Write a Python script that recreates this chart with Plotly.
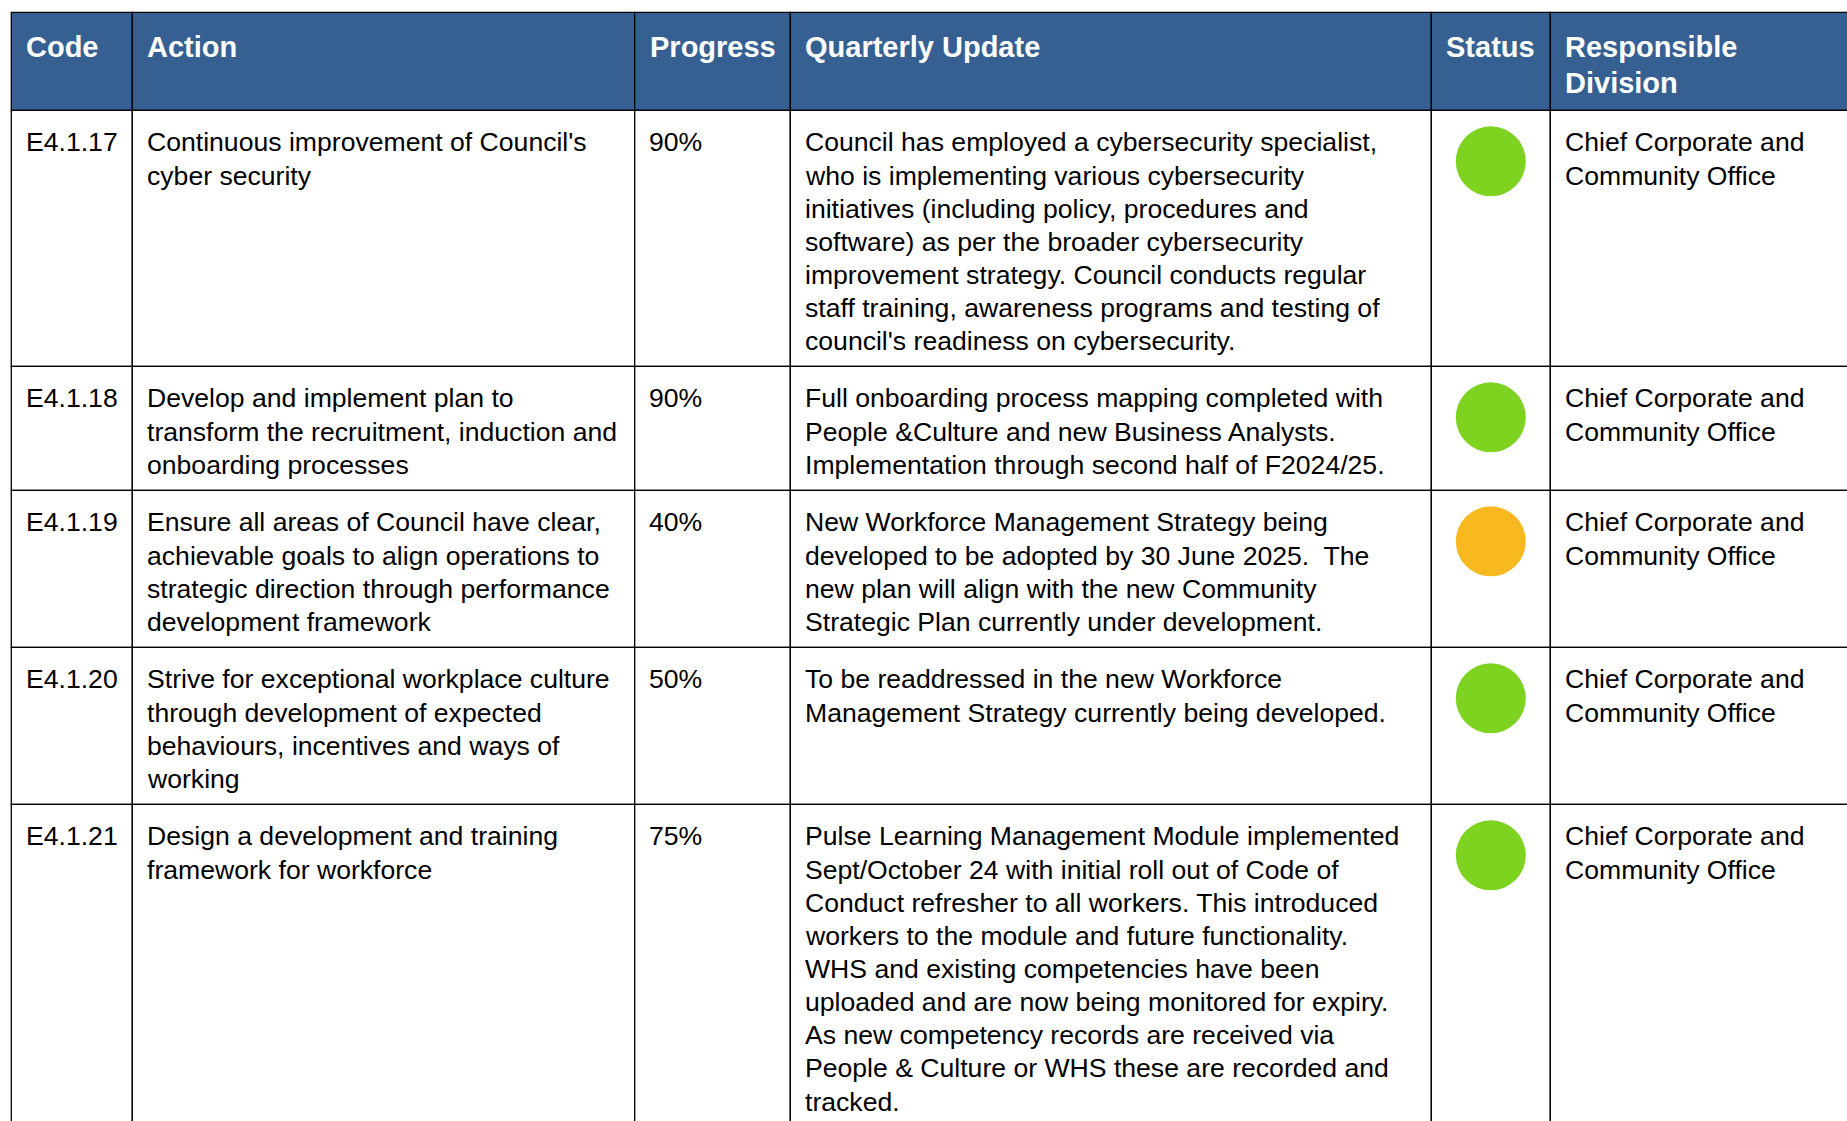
import plotly.graph_objects as go

# ---------------- data ----------------
headers = ["Code", "Action", "Progress", "Quarterly Update", "Status", "Responsible\nDivision"]

codes = ["E4.1.17", "E4.1.18", "E4.1.19", "E4.1.20", "E4.1.21"]

actions = [
    "Continuous improvement of Council's\ncyber security",
    "Develop and implement plan to\ntransform the recruitment, induction and\nonboarding processes",
    "Ensure all areas of Council have clear,\nachievable goals to align operations to\nstrategic direction through performance\ndevelopment framework",
    "Strive for exceptional workplace culture\nthrough development of expected\nbehaviours, incentives and ways of\nworking",
    "Design a development and training\nframework for workforce",
]

progress = [90, 90, 40, 50, 75]

updates = [
    "Council has employed a cybersecurity specialist,\nwho is implementing various cybersecurity\ninitiatives (including policy, procedures and\nsoftware) as per the broader cybersecurity\nimprovement strategy. Council conducts regular\nstaff training, awareness programs and testing of\ncouncil's readiness on cybersecurity.",
    "Full onboarding process mapping completed with\nPeople &Culture and new Business Analysts.\nImplementation through second half of F2024/25.",
    "New Workforce Management Strategy being\ndeveloped to be adopted by 30 June 2025.  The\nnew plan will align with the new Community\nStrategic Plan currently under development.",
    "To be readdressed in the new Workforce\nManagement Strategy currently being developed.",
    "Pulse Learning Management Module implemented\nSept/October 24 with initial roll out of Code of\nConduct refresher to all workers. This introduced\nworkers to the module and future functionality.\nWHS and existing competencies have been\nuploaded and are now being monitored for expiry.\nAs new competency records are received via\nPeople & Culture or WHS these are recorded and\ntracked.",
]

status = ["On track", "On track", "Monitor", "On track", "On track"]

divisions = [
    "Chief Corporate and\nCommunity Office",
    "Chief Corporate and\nCommunity Office",
    "Chief Corporate and\nCommunity Office",
    "Chief Corporate and\nCommunity Office",
    "Chief Corporate and\nCommunity Office",
]

# ---------------- styling / layout ----------------
W, H = 1847, 1121
FONT = "Liberation Sans, Arial, Helvetica, sans-serif"
HEADER_BG = "rgb(54,96,146)"
BORDER = "black"
BORDER_W = 1.3
STATUS_COLORS = {"On track": "rgb(126,211,33)", "Monitor": "rgb(248,185,32)"}

TABLE_LEFT = 11.3
TABLE_TOP = 12.3
COL_WIDTHS = [121, 502.4, 155.6, 641, 119, 420]
HEADER_H = 98
HEAD_FS = 29
HEAD_LINE_H = 36
HEAD_BASE_OFF = 44.6
BODY_FS = 26.6
LINE_H = 33
TEXT_LINE_H = 33.15
ROW_PAD = 25
BODY_BASE_OFF = 41.3
TEXT_PAD = 14.3
HEAD_PAD = 14.8
CIRCLE_OFF = 51
CIRCLE_D = 70
BASE_FROM_CENTER = 0.3465  # em, Liberation Sans (ascent-descent)/2

col_x = [TABLE_LEFT]
for w in COL_WIDTHS:
    col_x.append(col_x[-1] + w)

rows = []
for i in range(len(codes)):
    cells = [codes[i], actions[i], f"{progress[i]}%", updates[i], "", divisions[i]]
    rows.append(cells)

row_tops = [TABLE_TOP + HEADER_H]
for cells in rows:
    n = max(len(c.split("\n")) for c in cells)
    row_tops.append(row_tops[-1] + n * LINE_H + ROW_PAD)

shapes = []
annotations = []

def add_lines(text, x0, top, base_off, line_h, fs, color, bold=False):
    for k, line in enumerate(text.split("\n")):
        if not line:
            continue
        base = top + base_off + k * line_h
        yc = base - BASE_FROM_CENTER * fs
        annotations.append(dict(
            x=x0, y=yc, xref="x", yref="y", text=(f"<b>{line}</b>" if bold else line),
            showarrow=False, xanchor="left", yanchor="middle", borderpad=0,
            font=dict(family=FONT, size=fs, color=color), align="left",
        ))

# header cells
for j, h in enumerate(headers):
    shapes.append(dict(type="rect", xref="x", yref="y", x0=col_x[j], x1=col_x[j + 1],
                       y0=TABLE_TOP, y1=TABLE_TOP + HEADER_H, fillcolor=HEADER_BG,
                       line=dict(color=BORDER, width=BORDER_W), layer="below"))
    add_lines(h, col_x[j] + HEAD_PAD - 1, TABLE_TOP, HEAD_BASE_OFF, HEAD_LINE_H, HEAD_FS, "white", bold=True)

# body cells
for i, cells in enumerate(rows):
    top, bot = row_tops[i], row_tops[i + 1]
    for j, c in enumerate(cells):
        shapes.append(dict(type="rect", xref="x", yref="y", x0=col_x[j], x1=col_x[j + 1],
                           y0=top, y1=bot, fillcolor="white",
                           line=dict(color=BORDER, width=BORDER_W), layer="below"))
        if c:
            add_lines(c, col_x[j] + TEXT_PAD - 1, top, BODY_BASE_OFF, TEXT_LINE_H, BODY_FS, "black")

fig = go.Figure()
fig.add_trace(go.Scatter(
    x=[(col_x[4] + col_x[5]) / 2] * len(status),
    y=[row_tops[i] + CIRCLE_OFF for i in range(len(status))],
    mode="markers",
    marker=dict(size=CIRCLE_D, color=[STATUS_COLORS[s] for s in status], line=dict(width=0)),
    hoverinfo="skip", showlegend=False,
))

fig.update_layout(
    width=W, height=H, margin=dict(l=0, r=0, t=0, b=0),
    paper_bgcolor="white", plot_bgcolor="white",
    xaxis=dict(range=[0, W], visible=False, fixedrange=True),
    yaxis=dict(range=[H, 0], visible=False, fixedrange=True),
    shapes=shapes, annotations=annotations, showlegend=False,
)

fig.write_html("out.html", config={"displayModeBar": False},
               post_script="document.body.style.margin='0';document.body.style.overflow='hidden';")
